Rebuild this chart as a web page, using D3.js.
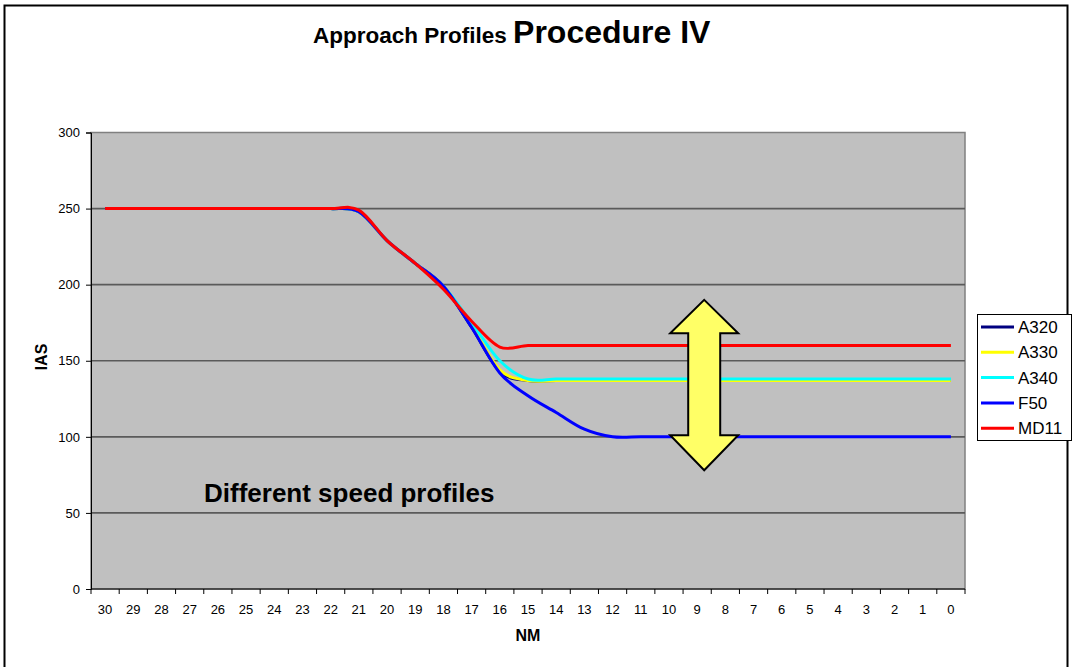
<!DOCTYPE html>
<html>
<head>
<meta charset="utf-8">
<script src="https://cdn.jsdelivr.net/npm/d3@7"></script>
<style>
  body { margin: 0; background: #fff; }
  svg { display: block; font-family: "Liberation Sans", Arial, sans-serif; }
</style>
</head>
<body>
<div class="chart"></div>
<script>
// distance to threshold, NM (category axis, read right to left)
var nm = ['30', '29', '28', '27', '26', '25', '24', '23', '22', '21', '20', '19', '18', '17', '16',
          '15', '14', '13', '12', '11', '10', '9', '8', '7', '6', '5', '4', '3', '2', '1', '0'];

var a320 = [250, 250, 250, 250, 250, 250, 250, 250, 250, 248, 229, 214, 199, 172, 143,
            137, 137, 137, 137, 137, 137, 137, 137, 137, 137, 137, 137, 137, 137, 137, 137];
var a330 = [250, 250, 250, 250, 250, 250, 250, 250, 250, 248, 229, 214, 199, 173, 144,
            137, 137, 137, 137, 137, 137, 137, 137, 137, 137, 137, 137, 137, 137, 137, 137];
var a340 = [250, 250, 250, 250, 250, 250, 250, 250, 250, 248, 229, 214, 199, 175, 150,
            138, 138, 138, 138, 138, 138, 138, 138, 138, 138, 138, 138, 138, 138, 138, 138];
var f50  = [250, 250, 250, 250, 250, 250, 250, 250, 250, 248, 229, 214, 199, 172, 142,
            127, 116, 105, 100, 100, 100, 100, 100, 100, 100, 100, 100, 100, 100, 100, 100];
var md11 = [250, 250, 250, 250, 250, 250, 250, 250, 250, 249, 229, 214, 197, 176, 159,
            160, 160, 160, 160, 160, 160, 160, 160, 160, 160, 160, 160, 160, 160, 160, 160];

var seriesNames = ['A320', 'A330', 'A340', 'F50', 'MD11'];
var seriesValues = [a320, a330, a340, f50, md11];
var seriesColors = ['#000080', '#ffff00', '#00ffff', '#0000ff', '#ff0000'];

var yTicks = [0, 50, 100, 150, 200, 250, 300];

// double arrow annotation: centre NM and IAS extents
var arrowAt = 8.75;
var arrowTip = [190, 78];
var arrowWing = [168, 101];

var width = 1073;
var height = 667;
var plot = { left: 91, right: 965, top: 132.5, bottom: 589 };

var svg = d3.select('.chart')
    .append('svg')
    .attr('width', width)
    .attr('height', height);

svg.append('rect')
    .attr('width', width)
    .attr('height', height)
    .attr('fill', '#fff');

// outer frame
svg.append('rect')
    .attr('x', 4.5)
    .attr('y', 5.5)
    .attr('width', 1063)
    .attr('height', 700)
    .attr('fill', 'none')
    .attr('stroke', '#000')
    .attr('stroke-width', 2);

var xBand = d3.scaleBand()
    .domain(nm)
    .range([plot.left, plot.right]);

var x = d3.scalePoint()
    .domain(nm)
    .range([plot.left, plot.right])
    .padding(0.5);

var xNum = d3.scaleLinear()
    .domain([30, 0])
    .range([x('30'), x('0')]);

var y = d3.scaleLinear()
    .domain([0, 300])
    .range([plot.bottom, plot.top]);

// plot area
svg.append('rect')
    .attr('x', plot.left)
    .attr('y', plot.top)
    .attr('width', plot.right - plot.left)
    .attr('height', plot.bottom - plot.top)
    .attr('fill', '#c0c0c0')
    .attr('stroke', '#808080')
    .attr('stroke-width', 1.5);

svg.append('g')
    .selectAll('line')
    .data(yTicks.filter(function(d) { return d > 0 && d < 300; }))
    .enter()
    .append('line')
    .attr('x1', plot.left)
    .attr('x2', plot.right)
    .attr('y1', function(d) { return y(d); })
    .attr('y2', function(d) { return y(d); })
    .attr('stroke', '#5a5a5a')
    .attr('stroke-width', 1.6);

// y axis
var yAxis = svg.append('g')
    .attr('transform', 'translate(' + plot.left + ',0)')
    .call(d3.axisLeft(y).tickValues(yTicks).tickSize(5).tickPadding(6));

yAxis.select('.domain').attr('stroke', '#000');
yAxis.selectAll('.tick line').attr('stroke', '#000');
yAxis.selectAll('text')
    .attr('font-size', 13)
    .attr('font-family', '"Liberation Sans", Arial, sans-serif')
    .attr('fill', '#000');

// x axis: ticks on category boundaries, labels centred
var xAxis = svg.append('g')
    .attr('transform', 'translate(0,' + plot.bottom + ')');

xAxis.append('line')
    .attr('x1', plot.left)
    .attr('x2', plot.right)
    .attr('stroke', '#000');

xAxis.selectAll('.xtick')
    .data(nm.concat(['end']))
    .enter()
    .append('line')
    .attr('class', 'xtick')
    .attr('x1', function(d) { return d === 'end' ? plot.right : xBand(d); })
    .attr('x2', function(d) { return d === 'end' ? plot.right : xBand(d); })
    .attr('y1', 0)
    .attr('y2', 5)
    .attr('stroke', '#000');

xAxis.selectAll('.xlabel')
    .data(nm)
    .enter()
    .append('text')
    .attr('class', 'xlabel')
    .attr('x', function(d) { return x(d); })
    .attr('y', 25)
    .attr('text-anchor', 'middle')
    .attr('font-size', 13)
    .text(function(d) { return d; });

// series
var line = d3.line()
    .x(function(d, i) { return x(nm[i]); })
    .y(function(d) { return y(d); })
    .curve(d3.curveCatmullRom.alpha(0));

svg.append('g')
    .selectAll('path')
    .data(seriesValues)
    .enter()
    .append('path')
    .attr('d', function(d) { return line(d); })
    .attr('fill', 'none')
    .attr('stroke', function(d, i) { return seriesColors[i]; })
    .attr('stroke-width', 3)
    .attr('stroke-linejoin', 'round');

// double arrow
var ax = xNum(arrowAt);
var headHalf = 34;
var shaftHalf = 16;
var arrowPath = [
    [ax, y(arrowTip[0])],
    [ax + headHalf, y(arrowWing[0])],
    [ax + shaftHalf, y(arrowWing[0])],
    [ax + shaftHalf, y(arrowWing[1])],
    [ax + headHalf, y(arrowWing[1])],
    [ax, y(arrowTip[1])],
    [ax - headHalf, y(arrowWing[1])],
    [ax - shaftHalf, y(arrowWing[1])],
    [ax - shaftHalf, y(arrowWing[0])],
    [ax - headHalf, y(arrowWing[0])]
];

svg.append('path')
    .attr('d', 'M' + arrowPath.join('L') + 'Z')
    .attr('fill', '#ffff66')
    .attr('stroke', '#000')
    .attr('stroke-width', 2)
    .attr('stroke-linejoin', 'miter');

svg.append('text')
    .attr('x', 204)
    .attr('y', 502)
    .attr('font-size', 26)
    .attr('font-weight', 'bold')
    .text('Different speed profiles');

// titles
var title = svg.append('text')
    .attr('x', 313)
    .attr('y', 43)
    .attr('font-weight', 'bold');

title.append('tspan')
    .attr('font-size', 22.5)
    .text('Approach Profiles ');

title.append('tspan')
    .attr('font-size', 32)
    .text('Procedure IV');

svg.append('text')
    .attr('x', 528)
    .attr('y', 641)
    .attr('text-anchor', 'middle')
    .attr('font-size', 16)
    .attr('font-weight', 'bold')
    .text('NM');

svg.append('text')
    .attr('transform', 'translate(47,357) rotate(-90)')
    .attr('text-anchor', 'middle')
    .attr('font-size', 16)
    .attr('font-weight', 'bold')
    .text('IAS');

// legend
var legend = svg.append('g')
    .attr('transform', 'translate(977,314)');

legend.append('rect')
    .attr('x', 0.5)
    .attr('y', 0.5)
    .attr('width', 94)
    .attr('height', 126)
    .attr('fill', '#fff')
    .attr('stroke', '#000');

var item = legend.selectAll('.item')
    .data(seriesNames)
    .enter()
    .append('g')
    .attr('class', 'item')
    .attr('transform', function(d, i) { return 'translate(0,' + (13 + i * 25.3) + ')'; });

item.append('line')
    .attr('x1', 4)
    .attr('x2', 37)
    .attr('stroke', function(d, i) { return seriesColors[i]; })
    .attr('stroke-width', 3);

item.append('text')
    .attr('x', 41)
    .attr('y', 6)
    .attr('font-size', 17)
    .text(function(d) { return d; });
</script>
</body>
</html>
